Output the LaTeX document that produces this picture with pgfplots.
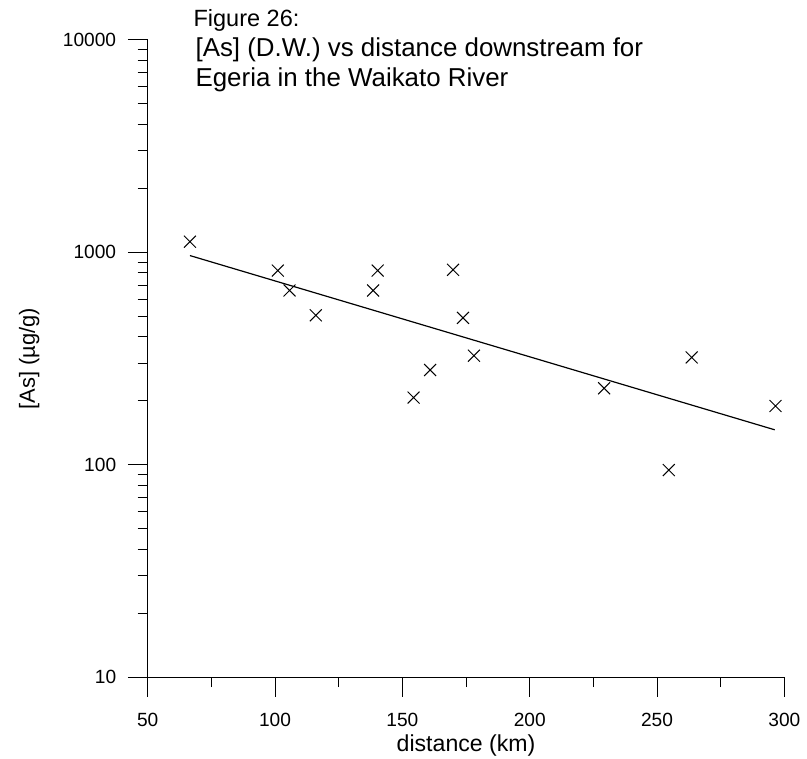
\documentclass[border=0pt]{standalone}
\usepackage{fontspec}
\setmainfont{Liberation Sans}
\usepackage{pgfplots}
\pgfplotsset{compat=1.18}
\begin{document}
\begin{tikzpicture}
\begin{axis}[
  at={(0,0)}, anchor=south west,
  scale only axis, width=319.7pt, height=320pt,
  xmin=50, xmax=300, ymin=10, ymax=10000,
  ymode=log,
  axis lines=left, axis line style={-, line width=0.5pt},
  xtick={50,100,...,300}, minor x tick num=1,
  ytick={10,100,1000,10000},
  minor ytick={20,30,40,50,60,70,80,90,200,300,400,500,600,700,800,900,2000,3000,4000,5000,6000,7000,8000,9000},
  log ticks with fixed point,
  /pgf/number format/1000 sep={},
  /pgf/number format/assume math mode=true,
  tick align=outside,
  major tick length=10pt, minor tick length=5pt,
  every tick/.style={black, line width=0.5pt},
  tick label style={font=\fontsize{9.6}{11}\selectfont},
  yticklabel style={xshift=-2.3pt},
  xticklabel style={yshift=-4.6pt},
  xlabel={distance (km)},
  xlabel style={at={(axis description cs:0.5,-0.1172)}, anchor=base, font=\fontsize{11.6}{14}\selectfont, inner sep=0pt},
  ylabel={[As] (µg/g)},
  ylabel style={at={(axis description cs:-0.1772,0.5)}, anchor=base, font=\fontsize{11}{14}\selectfont, inner sep=0pt},
  clip=false,
]
\addplot[only marks, mark=x, mark size=4.24pt, black, line width=0.5pt] coordinates {
(66.6,1122) (101.1,820) (105.7,661) (116.0,505) (138.5,661) (140.3,820)
(154.4,207) (160.9,279) (169.9,827) (173.8,491) (178.1,326)
(229.2,229) (254.6,94.4) (263.6,320) (296.5,189)
};
\addplot[black, line width=0.6pt, no marks] coordinates {(66.6,965) (296.2,146)};
\end{axis}
\node[anchor=base west, inner sep=0pt, font=\fontsize{11.8}{14}\selectfont] at (22.85pt,326.65pt) {Figure 26:};
\node[anchor=base west, inner sep=0pt, font=\fontsize{13}{15}\selectfont] at (23.85pt,311.65pt) {[As] (D.W.) vs distance downstream for};
\node[anchor=base west, inner sep=0pt, font=\fontsize{13}{15}\selectfont] at (23.85pt,296.35pt) {Egeria in the Waikato River};
\path[use as bounding box] (-74.15pt,-41pt) rectangle (329.35pt,340pt);
\end{tikzpicture}
\end{document}
